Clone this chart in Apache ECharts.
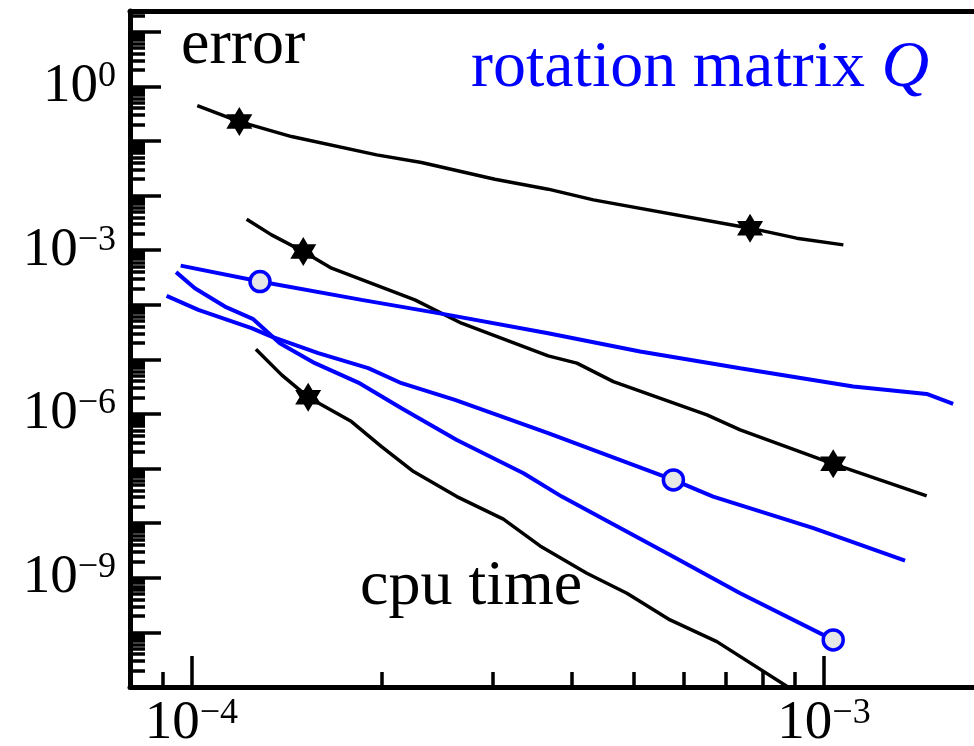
<!DOCTYPE html>
<html>
<head>
<meta charset="utf-8">
<title>error vs cpu time</title>
<script src="https://cdn.jsdelivr.net/npm/echarts@6/dist/echarts.min.js"></script>
<style>
  html, body { margin: 0; padding: 0; background: #fff; }
  #chart { width: 974px; height: 746px; }
</style>
</head>
<body>
<div id="chart"></div>
<script>
// axis range and labelled decades
const xRange = [8e-5, 1.726e-3];
const yRange = [1e-11, 24];
const xTickLabels = [1e-4, 1e-3];
const yTickLabels = [1, 1e-3, 1e-6, 1e-9];

// black curves [cpu time, error]
const black1 = [
  [1.022e-4, 0.445], [1.191e-4, 0.2266], [1.44e-4, 0.1204], [1.963e-4, 0.0556],
  [2.311e-4, 0.0402], [3.018e-4, 0.01997], [3.664e-4, 0.0131], [4.32e-4, 0.00834],
  [7.64e-4, 0.00253], [9.05e-4, 0.00166], [1.073e-3, 0.00125]
];
const black2 = [
  [1.223e-4, 3.7e-3], [1.339e-4, 1.906e-3], [1.503e-4, 9.43e-4], [1.666e-4, 4.68e-4],
  [2.256e-4, 1.229e-4], [2.673e-4, 4.6e-5], [3.664e-4, 1.159e-5], [4.068e-4, 8.52e-6],
  [4.646e-4, 3.92e-6], [6.53e-4, 9.63e-7], [7.37e-4, 5.12e-7], [1.034e-3, 1.22e-7],
  [1.453e-3, 3.16e-8]
];
const black3 = [
  [1.265e-4, 1.54e-5], [1.389e-4, 5.2e-6], [1.53e-4, 2.03e-6], [1.791e-4, 7.26e-7],
  [1.998e-4, 2.53e-7], [2.245e-4, 8.81e-8], [2.628e-4, 3.07e-8], [3.113e-4, 1.184e-8],
  [3.558e-4, 3.84e-9], [4.218e-4, 1.214e-9], [4.88e-4, 5.22e-10], [5.71e-4, 1.694e-10],
  [6.77e-4, 6.78e-11], [9.17e-4, 7.2e-12]
];
// blue curves (rotation matrix Q)
const blue1 = [
  [9.62e-5, 5.22e-4], [1.284e-4, 2.66e-4], [1.858e-4, 1.229e-4], [2.547e-4, 6.53e-5],
  [3.664e-4, 3.02e-5], [5.12e-4, 1.39e-5], [7.37e-4, 6.9e-6], [1.112e-3, 3.18e-6],
  [1.453e-3, 2.33e-6], [1.6e-3, 1.53e-6]
];
const blue2 = [
  [9.46e-5, 3.96e-4], [1.013e-4, 2.01e-4], [1.13e-4, 9.27e-5], [1.253e-4, 5.45e-5],
  [1.38e-4, 1.98e-5], [1.568e-4, 8.52e-6], [1.836e-4, 3.76e-6], [2.149e-4, 1.277e-6],
  [2.628e-4, 3.35e-7], [3.35e-4, 8.24e-8], [3.851e-4, 3.07e-8], [5.78e-4, 2.44e-9],
  [7.37e-4, 5.22e-10], [1.034e-3, 7.29e-11]
];
const blue3 = [
  [9.14e-5, 1.455e-4], [1.026e-4, 8.06e-5], [1.245e-4, 3.73e-5], [1.339e-4, 2.62e-5],
  [1.587e-4, 1.3e-5], [1.904e-4, 6.9e-6], [2.149e-4, 3.66e-6], [2.61e-4, 1.81e-6],
  [3.664e-4, 4.45e-7], [5.78e-4, 6.21e-8], [6.68e-4, 3.07e-8], [9.62e-4, 8.1e-9],
  [1.343e-3, 2.07e-9]
];
// which points carry a marker
const black1Marks = [1, 8];
const black2Marks = [2, 11];
const black3Marks = [2];
const blue1Marks = [1];
const blue2Marks = [13];
const blue3Marks = [9];

const FONT = '"Liberation Serif", "Times New Roman", serif';
const BLUE = '#0000ff';
const STAR = 'path://M50 0L64.4 25L93.3 25L78.9 50L93.3 75L64.4 75L50 100L35.6 75L6.7 75L21.1 50L6.7 25L35.6 25Z';

// tick positions
const decades = (lo, hi) => { const a = []; for (let e = lo; e <= hi; e++) a.push(Math.pow(10, e)); return a; };
const minors = (lo, hi) => { const a = []; for (let e = lo; e <= hi; e++) for (let m = 2; m <= 9; m++) a.push(m * Math.pow(10, e)); return a; };
const xMajor = decades(-5, -2);
const xMinor = minors(-5, -3).filter(v => v >= xRange[0] && v <= xRange[1]);
const yMajor = decades(-11, 1);
const yMinor = minors(-11, 1).filter(v => v >= yRange[0] && v <= yRange[1]);

const powLabel = v => {
  const e = Math.round(Math.log10(v));
  return '{b|10}{s|' + (e < 0 ? '\u2212' + (-e) : String(e)) + '}';
};
const labelRich = {
  b: { fontFamily: FONT, fontSize: 55, lineHeight: 56, color: '#000' },
  s: { fontFamily: FONT, fontSize: 36, lineHeight: 44, verticalAlign: 'top', color: '#000' }
};

const markData = (pts, marks, sym) => pts.map((p, i) => {
  if (marks.indexOf(i) >= 0) return { value: p, symbol: sym };
  return { value: p, symbol: 'none' };
});

const blackSeries = (pts, marks) => ({
  type: 'line', xAxisIndex: 0, yAxisIndex: 0,
  data: markData(pts, marks, STAR),
  symbolSize: [26, 29],
  showAllSymbol: true,
  lineStyle: { color: '#000', width: 3.5 },
  itemStyle: { color: '#000', borderWidth: 0 },
  emphasis: { disabled: true }
});
const blueSeries = (pts, marks) => ({
  type: 'line', xAxisIndex: 0, yAxisIndex: 0,
  data: markData(pts, marks, 'circle'),
  symbolSize: 20,
  showAllSymbol: true,
  lineStyle: { color: BLUE, width: 4 },
  itemStyle: { color: '#e6e6e6', borderColor: BLUE, borderWidth: 3.5 },
  emphasis: { disabled: true }
});

const gridBox = { left: 130, right: 0, top: 11, bottom: 59, containLabel: false, outerBoundsMode: 'none' };
const noAxisParts = { axisLine: { show: false }, axisTick: { show: false }, axisLabel: { show: false }, splitLine: { show: false }, minorTick: { show: false }, minorSplitLine: { show: false } };

const option = {
  animation: false,
  backgroundColor: '#fff',
  grid: [Object.assign({}, gridBox), Object.assign({}, gridBox)],
  xAxis: [
    {
      type: 'log', logBase: 10, gridIndex: 0, position: 'bottom', min: xRange[0], max: xRange[1],
      axisLine: { show: true, onZero: false, lineStyle: { color: '#000', width: 5 } },
      axisTick: { show: true, inside: true, length: 31, customValues: xMajor, lineStyle: { color: '#000', width: 3.5 } },
      axisLabel: { show: true, customValues: xTickLabels, formatter: powLabel, rich: labelRich, margin: 9, fontFamily: FONT },
      splitLine: { show: false }, minorTick: { show: false }
    },
    Object.assign({ type: 'log', logBase: 10, gridIndex: 0, position: 'top', min: xRange[0], max: xRange[1] }, noAxisParts,
      { axisLine: { show: true, onZero: false, lineStyle: { color: '#000', width: 5 } } }),
    Object.assign({ type: 'log', logBase: 10, gridIndex: 1, position: 'bottom', min: xRange[0], max: xRange[1] }, noAxisParts,
      { axisTick: { show: true, inside: true, length: 15, customValues: xMinor, lineStyle: { color: '#000', width: 3.5 } } })
  ],
  yAxis: [
    {
      type: 'log', logBase: 10, gridIndex: 0, position: 'left', min: yRange[0], max: yRange[1],
      axisLine: { show: true, onZero: false, lineStyle: { color: '#000', width: 5 } },
      axisTick: { show: true, inside: true, length: 31, customValues: yMajor, lineStyle: { color: '#000', width: 3.5 } },
      axisLabel: { show: true, customValues: yTickLabels, formatter: powLabel, rich: labelRich, margin: 14, fontFamily: FONT },
      splitLine: { show: false }, minorTick: { show: false }
    },
    Object.assign({ type: 'log', logBase: 10, gridIndex: 1, position: 'left', min: yRange[0], max: yRange[1] }, noAxisParts,
      { axisTick: { show: true, inside: true, length: 15, customValues: yMinor, lineStyle: { color: '#000', width: 3.5 } } })
  ],
  series: [
    blackSeries(black1, black1Marks),
    blackSeries(black2, black2Marks),
    blackSeries(black3, black3Marks),
    blueSeries(blue1, blue1Marks),
    blueSeries(blue2, blue2Marks),
    blueSeries(blue3, blue3Marks)
  ],
  graphic: [
    { type: 'text', left: 181, top: 14, style: { text: 'error', font: '64px ' + FONT, fill: '#000', verticalAlign: 'middle' }, z: 10 },
    { type: 'text', left: 360, top: 555, style: { text: 'cpu time', font: '64px ' + FONT, fill: '#000', verticalAlign: 'middle' }, z: 10 },
    {
      type: 'text', left: 471, top: 36, z: 10,
      style: {
        text: '{n|rotation matrix }{q|Q}', verticalAlign: 'middle',
        rich: {
          n: { fontFamily: FONT, fontSize: 66, fill: BLUE, color: BLUE },
          q: { fontFamily: FONT, fontSize: 66, fontStyle: 'italic', fill: BLUE, color: BLUE }
        }
      }
    }
  ]
};

const chart = echarts.init(document.getElementById('chart'));
chart.setOption(option);
</script>
</body>
</html>
